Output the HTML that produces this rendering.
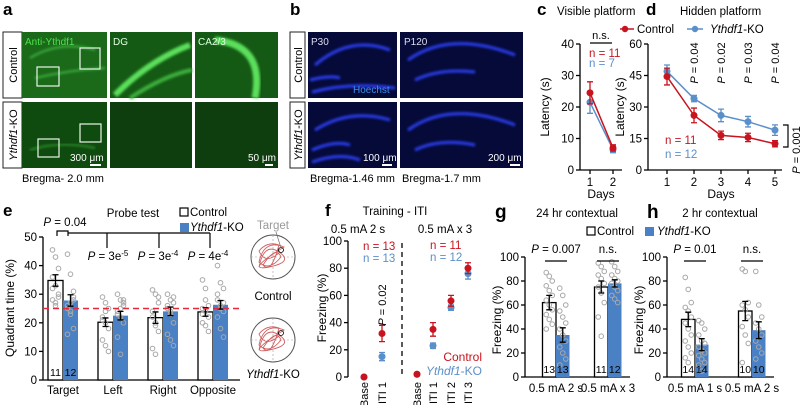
<!DOCTYPE html>
<html><head><meta charset="utf-8"><style>
html,body{margin:0;padding:0;background:#fff;width:800px;height:405px;overflow:hidden}
svg{display:block;font-family:"Liberation Sans",sans-serif}
</style></head><body>
<svg id="fig" width="800" height="405" viewBox="0 0 800 405" xmlns="http://www.w3.org/2000/svg">
<defs>
<filter id="blur1"><feGaussianBlur stdDeviation="1.2"/></filter>
</defs>
<g>
<text x="3" y="15" font-size="17" font-weight="bold">a</text>
<rect x="3" y="32" width="19" height="66" fill="#fff" stroke="#222" stroke-width="1"/>
<text transform="translate(17,65) rotate(-90)" text-anchor="middle" font-size="11">Control</text>
<rect x="3" y="102" width="19" height="66" fill="#fff" stroke="#222" stroke-width="1"/>
<text transform="translate(17,135) rotate(-90)" text-anchor="middle" font-size="11"><tspan font-style="italic">Ythdf1</tspan>-KO</text>
<rect x="22" y="32" width="85" height="66" fill="#1a6a1a"/>
<path d="M30,58 Q60,40 95,50 M35,78 Q70,70 105,68" stroke="#3cb03c" stroke-width="2" fill="none" filter="url(#blur1)"/>
<rect x="37" y="67" width="22" height="19" fill="none" stroke="#e8f5e8" stroke-width="1.2"/>
<rect x="80" y="48" width="20" height="21" fill="none" stroke="#e8f5e8" stroke-width="1.2"/>
<text x="25" y="45" font-size="10" fill="#4ee04e">Anti-Ythdf1</text>
<rect x="110" y="32" width="82" height="66" fill="#145a14"/>
<path d="M115,95 Q150,60 190,45" stroke="#5be05b" stroke-width="6" fill="none" filter="url(#blur1)"/>
<path d="M130,98 Q165,75 192,70" stroke="#3cb03c" stroke-width="4" fill="none" filter="url(#blur1)"/>
<text x="113" y="45" font-size="10" fill="#e0ffe0">DG</text>
<rect x="195" y="32" width="83" height="66" fill="#145a14"/>
<path d="M215,40 Q265,45 255,98" stroke="#5be05b" stroke-width="7" fill="none" filter="url(#blur1)"/>
<text x="198" y="45" font-size="10" fill="#e0ffe0">CA2/3</text>
<rect x="22" y="102" width="85" height="66" fill="#0f4a0f"/>
<path d="M30,150 Q60,140 95,148" stroke="#2c8a2c" stroke-width="2" fill="none" filter="url(#blur1)"/>
<rect x="38" y="139" width="21" height="18" fill="none" stroke="#e8f5e8" stroke-width="1.2"/>
<rect x="80" y="124" width="21" height="18" fill="none" stroke="#e8f5e8" stroke-width="1.2"/>
<text x="70" y="161" font-size="10" fill="#fff">300 μm</text>
<rect x="90" y="164" width="11" height="2" fill="#fff"/>
<rect x="110" y="102" width="82" height="66" fill="#0e3e0e"/>
<rect x="195" y="102" width="83" height="66" fill="#0e3e0e"/>
<text x="248" y="161" font-size="10" fill="#fff">50 μm</text>
<rect x="265" y="164" width="8" height="2" fill="#fff"/>
<text x="22" y="182" font-size="11">Bregma- 2.0 mm</text>
</g>
<g>
<text x="290" y="15" font-size="17" font-weight="bold">b</text>
<rect x="290" y="32" width="15" height="66" fill="#fff" stroke="#222"/>
<text transform="translate(302,65) rotate(-90)" text-anchor="middle" font-size="11">Control</text>
<rect x="290" y="102" width="15" height="66" fill="#fff" stroke="#222"/>
<text transform="translate(302,135) rotate(-90)" text-anchor="middle" font-size="11"><tspan font-style="italic">Ythdf1</tspan>-KO</text>
<rect x="308" y="32" width="89" height="66" fill="#050a38"/>
<path d="M315,65 Q350,35 390,50 M310,80 Q330,75 340,78 M312,92 Q350,82 395,88" stroke="#2a3df0" stroke-width="3" fill="none" filter="url(#blur1)"/>
<text x="311" y="45" font-size="10" fill="#dde">P30</text>
<text x="353" y="93" font-size="10" fill="#3a8ff0">Hoechst</text>
<rect x="308" y="102" width="89" height="66" fill="#050a38"/>
<path d="M315,130 Q350,108 390,120 M312,150 Q335,140 350,145 M312,162 Q340,152 360,160" stroke="#2a3df0" stroke-width="3" fill="none" filter="url(#blur1)"/>
<text x="363" y="161" font-size="10" fill="#fff">100 μm</text>
<rect x="382" y="164" width="10" height="2" fill="#fff"/>
<text x="310" y="182" font-size="11">Bregma-1.46 mm</text>
<rect x="400" y="32" width="123" height="66" fill="#050a38"/>
<path d="M408,60 Q450,30 515,55 M415,80 Q440,68 475,72" stroke="#2a3df0" stroke-width="3" fill="none" filter="url(#blur1)"/>
<text x="404" y="45" font-size="10" fill="#dde">P120</text>
<rect x="400" y="102" width="123" height="66" fill="#050a38"/>
<path d="M408,130 Q450,100 515,125 M415,150 Q440,138 475,145" stroke="#2a3df0" stroke-width="3" fill="none" filter="url(#blur1)"/>
<text x="488" y="161" font-size="10" fill="#fff">200 μm</text>
<rect x="510" y="164" width="10" height="2" fill="#fff"/>
<text x="402" y="182" font-size="11">Bregma-1.7 mm</text>
</g>
<g id="charts"></g>
</svg>
<script>
var cDays = [1, 2];
var cControl = [24.5, 7];
var cControlErr = [3.5, 1];
var cKO = [21.5, 6.5];
var cKOErr = [3.5, 1];
var cTicks = [0, 10, 20, 30, 40];

var dDays = [1, 2, 3, 4, 5];
var dControl = [44.5, 26, 16.5, 15.5, 12.5];
var dControlErr = [4, 3.5, 2, 2, 1.5];
var dKO = [47, 34, 26, 23, 19];
var dKOErr = [3, 1.5, 3, 2.5, 2.5];
var dTicks = [0, 15, 30, 45, 60];
var dPLabels = ["", "0.04", "0.02", "0.03", "0.04"];

var eCategories = ["Target", "Left", "Right", "Opposite"];
var eControl = [34.8, 20.2, 21.8, 23.8];
var eControlErr = [2, 1.5, 2, 1.5];
var eKO = [27.8, 22.5, 24, 26.3];
var eKOErr = [2, 1.5, 1.5, 1.5];
var eTicks = [0, 10, 20, 30, 40, 50];
var eControlDots = [[45.5,43,39,36,33,30,28,26,29,32,27],[29,27,25,22,20,18,14,12,10,21,24],[31.5,30,27,24,20,17,11,9,29,22,19],[35,32,26,25,24,22,20,19,17,23,28]];
var eKODots = [[44,37,28,26,24,18,16,27,29,25,23,31],[30,28,26,24,22,20,15,9,28,23,25,27],[30,28,27,25,24,20,16,14,12,26,23,29],[40,34,32,28,26,24,22,18,15,30,25,27]];
var ePLabels = ["", "3e-5", "3e-4", "4e-4"];

var fCategories = ["Base", "ITI 1", "Base", "ITI 1", "ITI 2", "ITI 3"];
var fControl = [0, 32, 2, 35, 56, 80];
var fControlErr = [0, 6, 1, 5, 4, 4];
var fKO = [0, 15, 2, 23, 51, 76];
var fKOErr = [0, 3, 1, 2, 2, 4];
var fTicks = [0, 20, 40, 60, 80, 100];

var gCategories = ["0.5 mA 2 s", "0.5 mA x 3"];
var gControl = [62, 75];
var gControlErr = [6, 5];
var gKO = [35, 78];
var gKOErr = [6, 3];
var gN = [["13","13"],["11","12"]];
var gControlDots = [[87,84,80,76,72,68,64,60,56,52,48,44,40],[95,92,88,85,82,78,75,70,62,50,34]];
var gKODots = [[74,68,60,55,50,45,40,35,30,25,20,15,10],[96,92,88,85,82,80,78,75,72,68,65,62]];

var hCategories = ["0.5 mA 1 s", "0.5 mA 2 s"];
var hControl = [48, 55];
var hControlErr = [6, 8];
var hKO = [27, 39];
var hKOErr = [5, 7];
var hN = [["14","14"],["10","10"]];
var hControlDots = [[83,73,62,58,55,50,45,40,35,30,25,20,16,12],[90,88,62,60,56,50,42,35,28,12]];
var hKODots = [[47,45,40,35,30,28,25,22,20,18,15,12,10,5],[88,60,50,45,40,35,30,25,20,15]];
var ghTicks = [0, 20, 40, 60, 80, 100];

var RED = "#c8141e", BLUE = "#5b8fc9", BARBLUE = "#4a80c4";
var NS = "http://www.w3.org/2000/svg";
var root = document.getElementById("charts");
function mk(tag, attrs, parent, txt) {
  var e = document.createElementNS(NS, tag);
  for (var k in attrs) e.setAttribute(k, attrs[k]);
  if (txt !== undefined) e.textContent = txt;
  (parent || root).appendChild(e);
  return e;
}
function lin(d0, d1, r0, r1) { return function (v) { return r0 + (v - d0) * (r1 - r0) / (d1 - d0); }; }

function yAxis(g, x, y, ticks, top, bottom, name) {
  var ax = mk("line", {x1: x, x2: x, y1: y(ticks[ticks.length-1]), y2: y(ticks[0]), stroke: "#000", "stroke-width": 1.3}, g);
  
  
  ticks.forEach(function (t) {
    var tl = mk("line", {x1: x - 4, x2: x, y1: y(t), y2: y(t), stroke: "#000", "stroke-width": 1.3}, g);
    
    
    var tx = mk("text", {x: x - 6, y: y(t) + 4, "text-anchor": "end", "font-size": 11.5}, g, t);
    
    
  });
}
function xAxis(g, x0, x1, y, name) {
  var ax = mk("line", {x1: x0, x2: x1, y1: y, y2: y, stroke: "#000", "stroke-width": 1.3}, g);
  
  
}
function ylabel(g, x, yc, txt, name) {
  var t = mk("text", {transform: "translate(" + x + "," + yc + ") rotate(-90)", "text-anchor": "middle", "font-size": 12}, g, txt);
  
  
}
function errbar(g, x, y, v, e, col, name) {
  var l = mk("path", {d: "M" + x + "," + y(v + e) + "V" + y(v - e) + "M" + (x - 3) + "," + y(v + e) + "h6M" + (x - 3) + "," + y(v - e) + "h6", stroke: col, "stroke-width": 1.3, fill: "none"}, g);
  
  
}
function series(g, xs, vals, errs, y, col, name) {
  var d = "";
  vals.forEach(function (v, i) { d += (i ? "L" : "M") + xs[i] + "," + y(v); });
  var p = mk("path", {d: d, stroke: col, "stroke-width": 1.5, fill: "none"}, g);
  
  
  vals.forEach(function (v, i) {
    errbar(g, xs[i], y, v, errs[i], col, name + '-error-bar');
    var c = mk("circle", {cx: xs[i], cy: y(v), r: 3.5, fill: col}, g);
    
    
  });
}
function dots(g, cx, arr, y, name) {
  arr.forEach(function (v, i) {
    var off = ((i % 3) - 1) * 3;
    var c = mk("circle", {cx: cx + off, cy: y(v), r: 2.3, fill: "none", stroke: "#a8a8a8", "stroke-width": 1}, g);
    
    
  });
}
function barPair(g, cx, w, vc, ec, vk, ek, y, base, name, dc, dk, nl) {
  var b1 = mk("rect", {x: cx - w, y: y(vc), width: w, height: base - y(vc), fill: "#fff", stroke: "#000", "stroke-width": 1.3}, g);
  
  
  var b2 = mk("rect", {x: cx, y: y(vk), width: w, height: base - y(vk), fill: BARBLUE}, g);
  
  
  if (dc) dots(g, cx - w / 2, dc, y, name + '-control-dot');
  if (dk) dots(g, cx + w / 2, dk, y, name + '-ko-dot');
  errbar(g, cx - w / 2, y, vc, ec, "#000", name + '-control-error');
  errbar(g, cx + w / 2, y, vk, ek, "#000", name + '-ko-error');
  if (nl) {
    var n1 = mk("text", {x: cx - w / 2, y: base - 4, "text-anchor": "middle", "font-size": 10.5}, g, nl[0]);
    
    
    var n2 = mk("text", {x: cx + w / 2, y: base - 4, "text-anchor": "middle", "font-size": 10.5}, g, nl[1]);
    
    
  }
}
function txt(g, x, y, s, attrs, name) {
  var a = {x: x, y: y, "font-size": 11.5};
  for (var k in attrs) a[k] = attrs[k];
  var t = mk("text", a, g);
  t.innerHTML = s;
  
  
  return t;
}

var gc = mk("g", {}, root);


var cy = lin(0, 40, 170, 44);
var cx = lin(1, 2, 590, 613);
txt(gc, 537, 15, "c", {"font-size": 17, "font-weight": "bold"}, "panel-c-label");
txt(gc, 557, 15, "Visible platform", {}, "panel-c-title");
yAxis(gc, 580, cy, cTicks, 0, 0, "c");
xAxis(gc, 580, 622, 170, "c");
cDays.forEach(function (d) {
  var t = mk("line", {x1: cx(d), x2: cx(d), y1: 170, y2: 174, stroke: "#000", "stroke-width": 1.3}, gc);
  
  
  txt(gc, cx(d), 186, d, {"text-anchor": "middle"}, "c-x-tick-label");
});
txt(gc, 601, 198, "Days", {"text-anchor": "middle", "font-size": 12}, "c-x-axis-title");
ylabel(gc, 549, 107, "Latency (s)", "c");
series(gc, cDays.map(cx), cKO, cKOErr, cy, BLUE, "c-ko");
series(gc, cDays.map(cx), cControl, cControlErr, cy, RED, "c-control");
txt(gc, 601, 39, "n.s.", {"text-anchor": "middle", "font-size": 11}, "c-ns-label");
var cl = mk("line", {x1: 590, x2: 612, y1: 43, y2: 43, stroke: "#000", "stroke-width": 1.2}, gc);


txt(gc, 589, 57, "n = 11", {fill: RED}, "c-n-control");
txt(gc, 589, 67, "n = 7", {fill: BLUE}, "c-n-ko");

var gd = mk("g", {}, root);


var dy = lin(0, 60, 170, 44);
var dx = lin(1, 5, 667, 775);
txt(gd, 646, 15, "d", {"font-size": 17, "font-weight": "bold"}, "panel-d-label");
txt(gd, 680, 15, "Hidden platform", {}, "panel-d-title");
var lg1 = mk("line", {x1: 620, x2: 634, y1: 29, y2: 29, stroke: RED, "stroke-width": 1.5}, gd);


var lg1c = mk("circle", {cx: 625, cy: 29, r: 3.2, fill: RED}, gd);


txt(gd, 637, 33, "Control", {}, "legend-control");
var lg2 = mk("line", {x1: 687, x2: 703, y1: 29, y2: 29, stroke: BLUE, "stroke-width": 1.5}, gd);


var lg2c = mk("circle", {cx: 695, cy: 29, r: 3.2, fill: BLUE}, gd);


txt(gd, 710, 33, "<tspan font-style='italic'>Ythdf1</tspan>-KO", {}, "legend-ko");
yAxis(gd, 648, dy, dTicks, 0, 0, "d");
xAxis(gd, 648, 782, 170, "d");
dDays.forEach(function (d, i) {
  var t = mk("line", {x1: dx(d), x2: dx(d), y1: 170, y2: 174, stroke: "#000", "stroke-width": 1.3}, gd);
  
  
  txt(gd, dx(d), 186, d, {"text-anchor": "middle"}, "d-x-tick-label");
  if (dPLabels[i]) {
    txt(gd, 0, 0, "<tspan font-style='italic'>P</tspan> = " + dPLabels[i], {transform: "translate(" + (dx(d) + 4) + ",63) rotate(-90)", "text-anchor": "middle", "font-size": 11}, "d-p-value");
  }
});
txt(gd, 721, 198, "Days", {"text-anchor": "middle", "font-size": 12}, "d-x-axis-title");
ylabel(gd, 624, 107, "Latency (s)", "d");
series(gd, dDays.map(dx), dKO, dKOErr, dy, BLUE, "d-ko");
series(gd, dDays.map(dx), dControl, dControlErr, dy, RED, "d-control");
txt(gd, 665, 144, "n = 11", {fill: RED}, "d-n-control");
txt(gd, 665, 158, "n = 12", {fill: BLUE}, "d-n-ko");
var br = mk("path", {d: "M783,125H788V147H783", stroke: "#000", "stroke-width": 1.2, fill: "none"}, gd);


txt(gd, 0, 0, "<tspan font-style='italic'>P</tspan> = 0.001", {transform: "translate(800,150) rotate(-90)", "text-anchor": "middle", "font-size": 11}, "d-p-overall");

var ge = mk("g", {}, root);


var ey = lin(0, 50, 380, 237);
var eCenters = eCategories.map(function (c, i) { return 63 + i * 50; });
txt(ge, 3, 216, "e", {"font-size": 17, "font-weight": "bold"}, "panel-e-label");
txt(ge, 133, 217, "Probe test", {"text-anchor": "middle"}, "panel-e-title");
var eb1 = mk("rect", {x: 180, y: 208, width: 8, height: 8, fill: "#fff", stroke: "#000", "stroke-width": 1.2}, ge);


txt(ge, 190, 216, "Control", {}, "e-legend-control");
var eb2 = mk("rect", {x: 180, y: 223, width: 9, height: 9, fill: BARBLUE}, ge);


txt(ge, 190, 231, "<tspan font-style='italic'>Ythdf1</tspan>-KO", {}, "e-legend-ko");
yAxis(ge, 43, ey, eTicks, 0, 0, "e");
xAxis(ge, 43, 240, 380, "e");
ylabel(ge, 14, 308, "Quadrant time (%)", "e");
eCategories.forEach(function (c, i) {
  barPair(ge, eCenters[i], 15, eControl[i], eControlErr[i], eKO[i], eKOErr[i], ey, 380, "e-" + c.toLowerCase(), eControlDots[i], eKODots[i], i === 0 ? ["11", "12"] : null);
  txt(ge, eCenters[i], 394, c, {"text-anchor": "middle", "font-size": 11.5}, "e-x-tick-label");
});
var dash = mk("line", {x1: 43, x2: 240, y1: ey(25), y2: ey(25), stroke: "#e8283a", "stroke-width": 1.5, "stroke-dasharray": "6,4"}, ge);


txt(ge, 65, 226, "<tspan font-style='italic'>P</tspan> = 0.04", {"text-anchor": "middle"}, "e-p-target");
var eb = mk("path", {d: "M57,236V231H68V236 M68,233H210 M107,233V248 M159,233V248 M210,233V248", stroke: "#000", "stroke-width": 1.2, fill: "none"}, ge);


ePLabels.forEach(function (p, i) {
  if (p) txt(ge, eCenters[i] - 5, 260, "<tspan font-style='italic'>P</tspan> = " + p.replace(/e(-\d)/, "e<tspan dy='-4' font-size='8'>$1</tspan>"), {"text-anchor": "middle"}, "e-p-value");
});
[[273, 257, "Control"], [273, 340, "KO"]].forEach(function (m, k) {
  var c = mk("circle", {cx: m[0], cy: m[1], r: 22, fill: "#fff", stroke: "#555", "stroke-width": 1}, ge);
  
  
  var cr = mk("path", {d: "M" + (m[0] - 22) + "," + m[1] + "h44M" + m[0] + "," + (m[1] - 22) + "v44", stroke: "#999", "stroke-width": 0.6, "stroke-dasharray": "2,2"}, ge);
  
  
  var pth = mk("path", {d: "M" + (m[0] - 14) + "," + (m[1] + 10) + "q5,-25 20,-15t-10,15t15,-20q-20,-8 -25,15q10,10 22,-5q-5,-12 -18,8q8,10 16,-20q-12,-4 -20,6q6,14 20,2", stroke: "#d06060", "stroke-width": 0.9, fill: "none"}, ge);
  
  
  var pl = mk("circle", {cx: m[0] + 8, cy: m[1] - 7, r: 2.5, fill: "none", stroke: "#000", "stroke-width": 0.8}, ge);
  
  
});
txt(ge, 273, 229, "Target", {"text-anchor": "middle", fill: "#999"}, "maze-target-label");
var tl = mk("line", {x1: 276, y1: 232, x2: 281, y2: 248, stroke: "#777", "stroke-width": 0.8}, ge);


txt(ge, 273, 300, "Control", {"text-anchor": "middle"}, "maze-control-label");
txt(ge, 273, 378, "<tspan font-style='italic'>Ythdf1</tspan>-KO", {"text-anchor": "middle"}, "maze-ko-label");

var gf = mk("g", {}, root);


var fy = lin(0, 100, 377, 241);
var fX = [364, 382, 417, 433, 451, 468];
txt(gf, 325, 216, "f", {"font-size": 17, "font-weight": "bold"}, "panel-f-label");
txt(gf, 395, 215, "Training - ITI", {"text-anchor": "middle"}, "panel-f-title");
txt(gf, 358, 233, "0.5 mA 2 s", {"text-anchor": "middle"}, "f-subtitle-1");
txt(gf, 445, 233, "0.5 mA x 3", {"text-anchor": "middle"}, "f-subtitle-2");
yAxis(gf, 348, fy, fTicks, 0, 0, "f");
ylabel(gf, 326, 308, "Freezing (%)", "f");
var vd = mk("line", {x1: 402, x2: 402, y1: 243, y2: 377, stroke: "#000", "stroke-width": 1.3, "stroke-dasharray": "5,4"}, gf);


fCategories.forEach(function (c, i) {
  txt(gf, 0, 0, c, {transform: "translate(" + (fX[i] + 4) + ",382) rotate(-90)", "text-anchor": "end", "font-size": 11}, "f-x-tick-label");
});
fCategories.forEach(function (c, i) {
  errbar(gf, fX[i], fy, fKO[i], fKOErr[i], BLUE, "f-ko-error");
  var p = mk("circle", {cx: fX[i], cy: fy(fKO[i]), r: 3.5, fill: BLUE}, gf);
  
  
  errbar(gf, fX[i], fy, fControl[i], fControlErr[i], RED, "f-control-error");
  var q = mk("circle", {cx: fX[i], cy: fy(fControl[i]), r: 3.5, fill: RED}, gf);
  
  
});
txt(gf, 363, 250, "n = 13", {fill: RED}, "f-n-control-1");
txt(gf, 363, 262, "n = 13", {fill: BLUE}, "f-n-ko-1");
txt(gf, 430, 249, "n = 11", {fill: RED}, "f-n-control-2");
txt(gf, 430, 261, "n = 12", {fill: BLUE}, "f-n-ko-2");
txt(gf, 0, 0, "<tspan font-style='italic'>P</tspan> = 0.02", {transform: "translate(386,305) rotate(-90)", "text-anchor": "middle", "font-size": 11}, "f-p-value");
txt(gf, 482, 361, "Control", {"text-anchor": "end", fill: RED, "font-size": 12}, "f-legend-control");
txt(gf, 482, 375, "<tspan font-style='italic'>Ythdf1</tspan>-KO", {"text-anchor": "end", fill: BLUE, "font-size": 12}, "f-legend-ko");

var ghy = lin(0, 100, 377, 257);
function fearPanel(letter, lx, title, tx, axX, centers, cats, ctrl, ce, ko, ke, dC, dK, nl, pTxt) {
  var g = mk("g", {}, root);
  
  
  txt(g, lx, 218, letter, {"font-size": 19, "font-weight": "bold"}, "panel-" + letter + "-label");
  txt(g, tx, 217, title, {"text-anchor": "middle"}, "panel-" + letter + "-title");
  yAxis(g, axX, ghy, ghTicks, 0, 0, letter);
  xAxis(g, axX, centers[1] + 22, 377, letter);
  ylabel(g, axX - 24, 320, "Freezing (%)", letter);
  cats.forEach(function (c, i) {
    barPair(g, centers[i], 13.5, ctrl[i], ce[i], ko[i], ke[i], ghy, 377, letter + "-group-" + (i + 1), dC[i], dK[i], nl[i]);
    txt(g, centers[i], 392, c, {"text-anchor": "middle"}, letter + "-x-tick-label");
    var lab = i === 0 ? "<tspan font-style='italic'>P</tspan> = " + pTxt : "n.s.";
    txt(g, centers[i], 253, lab, {"text-anchor": "middle"}, letter + "-significance");
    var sl = mk("line", {x1: centers[i] - 11, x2: centers[i] + 11, y1: 261, y2: 261, stroke: "#000", "stroke-width": 1.2}, g);
    
    
  });
  return g;
}
var gg = fearPanel("g", 495, "24 hr contextual", 577, 525, [556, 608], gCategories, gControl, gControlErr, gKO, gKOErr, gControlDots, gKODots, gN, "0.007");
var sw1 = mk("rect", {x: 587, y: 227, width: 8, height: 8, fill: "#fff", stroke: "#000", "stroke-width": 1.2}, gg);


txt(gg, 597, 235, "Control", {}, "gh-legend-control");
var sw2 = mk("rect", {x: 645, y: 227, width: 9, height: 9, fill: BARBLUE}, gg);


txt(gg, 657, 235, "<tspan font-style='italic'>Ythdf1</tspan>-KO", {}, "gh-legend-ko");
fearPanel("h", 647, "2 hr contextual", 720, 667, [695, 752], hCategories, hControl, hControlErr, hKO, hKOErr, hControlDots, hKODots, hN, "0.01");
</script>
</body></html>
